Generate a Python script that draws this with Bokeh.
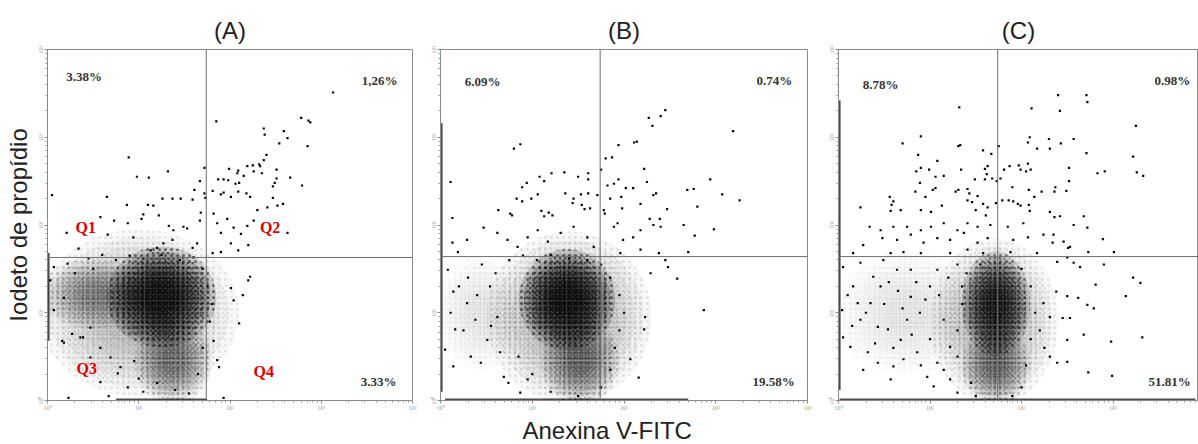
import math
from bokeh.plotting import figure
from bokeh.layouts import row
from bokeh.models import FixedTicker, Span, Range1d, Title
from bokeh.core.properties import value
from bokeh.embed import file_html
from bokeh.resources import INLINE

# ---------------- data (log10 decades of fluorescence) ----------------
panel_titles = ["(A)", "(B)", "(C)"]
x_label = "Anexina V-FITC"
y_label = "Iodeto de propídio"
decade_ticks = [0, 1, 2, 3, 4]
decade_labels = ["10⁰", "10¹", "10²", "10³", "10⁴"]
gate_x = [1.74, 1.74, 1.74]
gate_y = [1.63, 1.64, 1.64]
pct_q1 = ["3.38%", "6.09%", "8.78%"]
pct_q2 = ["1,26%", "0.74%", "0.98%"]
pct_q4 = ["3.33%", "19.58%", "51.81%"]
quad_names = ["Q1", "Q2", "Q3", "Q4"]

a_pts = [(3.13,3.51),(2.78,3.22),(2.86,3.19),(2.88,3.17),(1.85,3.18),(2.37,3.10),(2.38,3.03),(2.59,3.07),(2.63,2.99),(2.54,2.93),(2.85,2.90),(2.40,2.80),(2.37,2.74),(0.89,2.77),(0.98,2.55),(1.11,2.54),(1.32,2.61),(1.72,2.65),(1.99,2.64),(2.09,2.62),(2.08,2.59),(2.15,2.56),(2.19,2.67),(2.25,2.68),(2.26,2.61),(2.32,2.69),(2.33,2.67),(2.35,2.59),(2.51,2.63),(2.51,2.53),(2.49,2.48),(2.47,2.44),(2.66,2.54),(2.79,2.45),(1.87,2.52),(1.93,2.52),(1.98,2.51),(2.06,2.47),(2.10,2.48),(1.61,2.40),(1.67,2.50),(1.72,2.36),(1.73,2.31),(1.81,2.39),(1.90,2.35),(1.93,2.37),(2.01,2.32),(2.09,2.38),(2.18,2.36),(2.22,2.32),(0.65,2.32),(0.05,2.34),(1.26,2.30),(1.37,2.30),(1.46,2.30),(1.59,2.29),(2.47,2.31),
         (0.87,2.23),(1.10,2.23),(1.16,2.22),(0.58,2.09),(0.73,2.05),(1.05,2.12),(1.03,2.07),(1.22,2.11),(0.88,2.02),(0.21,1.91),(0.66,1.89),(0.34,1.73),(0.94,1.86),(1.33,1.99),(1.38,1.94),(1.49,1.98),(1.53,1.96),(1.27,1.79),(1.37,1.83),(1.20,1.74),(1.13,1.71),(1.59,1.74),(1.64,1.79),(1.68,2.14),(1.67,2.05),(1.82,2.13),(1.86,2.02),(1.90,1.91),(1.97,2.07),(2.04,1.97),(2.01,1.79),(2.12,1.90),(2.19,1.99),(2.26,2.05),(2.30,2.17),(2.41,2.20),(2.52,2.22),(2.58,2.24),(2.63,1.91),(2.20,1.77),(2.09,1.71),(1.90,1.69),(1.81,1.68),
         (2.20,1.37),(2.22,1.41),(2.14,1.20),(2.10,0.88),(1.93,0.03),(1.86,0.46),(1.88,0.38),(2.01,1.28),(2.04,1.14),(1.82,0.68),
         (0.58,0.21),(0.67,0.05),(0.47,0.49),(0.36,0.72),(0.18,0.66),(0.23,0.03),(0.77,0.31),(0.88,0.15),(0.80,0.38),
         (0.03,1.37),(0.07,1.03),(0.18,1.17),(0.16,0.68),(0.27,0.76),(0.39,0.72),(0.07,1.52),(0.22,1.56),(0.58,0.60),(0.69,0.49),(0.47,0.83),
         (0.45,1.62),(0.60,1.66),(0.75,1.60),(0.90,1.65),(1.05,1.62),(1.25,1.66),(1.45,1.60),(1.60,1.63),(0.50,1.50),(0.30,1.45),(1.70,1.50),(1.75,1.30),(1.80,1.10),(1.78,0.90),(1.70,0.60),(1.65,0.30),(1.05,0.10),(1.20,0.20),(1.40,0.12),(1.55,0.08),(0.95,0.45),(1.00,0.25)]
a_x = [p[0] for p in a_pts]
a_y = [p[1] for p in a_pts]

b_pts = [(2.45,3.31),(2.40,3.24),(2.27,3.22),(2.31,3.13),(3.19,3.07),(2.11,2.94),(2.14,2.95),(1.94,2.91),(0.80,2.87),(0.87,2.92),(1.80,2.76),(1.87,2.77),(2.22,2.64),(2.25,2.49),(0.11,2.49),(1.21,2.59),(1.35,2.60),(1.50,2.55),(1.61,2.59),(1.61,2.52),(1.75,2.63),(1.08,2.55),(1.13,2.50),(0.94,2.48),(0.89,2.43),(2.94,2.52),(1.94,2.52),(1.82,2.45),(1.89,2.47),(2.02,2.42),(2.10,2.42),(2.69,2.40),(2.76,2.41),(3.07,2.35),(3.26,2.28),(2.32,2.34),(2.35,2.36),(2.18,2.24),(2.80,2.21),(2.47,2.18),(1.97,2.32),(1.85,2.30),(1.98,2.19),(1.36,2.36),(1.53,2.35),(1.61,2.36),(1.71,2.34),(1.06,2.35),(0.99,2.30),(0.83,2.30),(0.89,2.27),(1.44,2.25),(1.45,2.30),(1.54,2.23),(1.57,2.18),(1.63,2.19),(0.63,2.17),(0.76,2.13),(0.78,2.11),(1.10,2.16),(1.18,2.14),(1.13,2.10),(1.22,2.11),(1.78,2.17),(1.79,2.13),(0.13,2.08),(2.28,2.07),(2.39,2.07),
         (2.65,2.00),(2.98,1.95),(2.77,1.88),(2.70,1.69),(2.32,2.00),(2.40,1.98),(2.18,1.94),(2.10,1.86),(1.99,1.83),(1.89,1.98),(1.93,2.02),(2.18,1.72),(2.38,1.68),(1.96,1.68),
         (0.13,1.80),(0.19,1.69),(0.29,1.83),(0.47,1.97),(0.62,1.91),(0.73,1.83),(0.84,1.75),(0.95,1.86),(1.06,1.94),(1.17,1.81),(1.31,1.91),(1.45,1.98),(1.60,1.86),(1.67,1.75),
         (2.48,1.52),(2.58,1.39),(2.87,1.03),(2.45,1.60),(2.29,1.45),(2.16,0.26),(2.07,0.47),(2.23,0.95),(2.22,0.81),
         (0.08,1.49),(0.14,1.24),(0.11,1.00),(0.16,0.81),(0.05,0.58),(0.33,0.50),(0.44,0.43),(0.14,0.39),(0.29,1.11),(0.38,0.92),(0.51,0.69),(0.54,1.30),(0.62,0.95),(0.65,0.55),(0.74,0.20),(0.69,0.27),(0.87,0.09),(0.95,0.24),
         (0.30,1.40),(0.45,1.55),(0.60,1.45),(0.75,1.60),(0.90,1.65),(1.05,1.60),(1.20,1.66),(1.40,1.62),(1.60,1.60),(1.75,1.55),(1.85,1.40),(1.95,1.20),(2.00,1.00),(1.95,0.80),(1.90,0.60),(1.85,0.35),(1.75,0.15),(1.50,0.05),(1.20,0.10),(1.00,0.30),(0.85,0.50),(0.20,1.30),(0.40,1.20),(0.25,0.80),(0.55,0.85)]
b_x = [p[0] for p in b_pts]
b_y = [p[1] for p in b_pts]

c_pts = [(2.40,3.48),(2.71,3.48),(2.72,3.40),(2.42,3.30),(2.11,3.33),(1.32,3.34),(3.25,3.13),(0.90,3.01),(0.70,2.93),(1.31,2.90),(1.33,2.91),(1.75,2.90),(2.09,3.00),(2.07,2.94),(2.17,2.87),(2.30,2.98),(2.31,2.87),(2.43,2.93),(2.57,2.98),(2.71,2.82),(3.22,2.78),(3.26,2.60),(3.33,2.56),(2.83,2.59),(2.91,2.61),(1.58,2.85),(1.67,2.81),(0.87,2.80),(1.08,2.73),(0.90,2.65),(0.85,2.61),(0.99,2.63),(1.34,2.63),(1.60,2.64),(1.63,2.67),(1.62,2.58),(1.87,2.67),(1.97,2.68),(2.07,2.70),(1.99,2.63),(2.10,2.63),(2.05,2.61),(1.81,2.63),(1.77,2.53),(2.52,2.65),(2.52,2.50),(2.49,2.39),(1.06,2.55),(1.15,2.56),(0.89,2.48),(1.49,2.52),(1.60,2.52),(1.68,2.53),(1.73,2.50),(1.90,2.43),(2.37,2.43),(2.36,2.38),(2.22,2.38),(2.08,2.40),(2.14,2.32),(0.84,2.38),(0.95,2.32),(1.06,2.42),(1.03,2.40),(1.28,2.38),(1.31,2.40),(1.41,2.41),(1.43,2.36),(0.56,2.32),(0.60,2.27),(0.58,2.23),(0.24,2.20),(0.57,2.16),(0.68,2.17),(1.41,2.28),(1.46,2.26),(1.52,2.33),(1.58,2.24),(1.63,2.20),(1.72,2.25),(1.79,2.28),(1.86,2.28),(1.91,2.27),(1.96,2.24),(1.99,2.22),(2.08,2.23),(2.09,2.16),(1.13,2.22),(0.90,2.17),(1.01,2.15),(1.50,2.17),(1.61,2.11),(2.31,2.15),(2.36,2.09),(2.42,2.10),(2.68,2.10),
         (0.34,1.98),(0.46,1.94),(0.60,1.98),(0.75,1.98),(0.90,1.94),(1.01,1.98),(1.15,2.02),(1.30,1.94),(1.41,2.02),(1.52,1.98),(1.66,2.00),(1.85,1.98),(2.02,2.02),(0.48,1.85),(0.64,1.83),(0.79,1.89),(0.93,1.80),(1.08,1.85),(1.22,1.83),(1.37,1.91),(1.52,1.80),(1.63,1.85),(1.91,1.83),(2.07,1.86),(2.24,1.89),(2.35,1.89),(2.46,1.81),(2.57,2.00),(2.72,1.97),(2.89,1.84),(3.01,1.69),(2.73,1.69),(2.51,1.74),(2.53,1.75),(2.34,1.80),(0.16,1.68),(0.27,1.77),(0.57,1.68),(0.71,1.69),(0.90,1.68),(1.22,1.68),(1.41,1.72),(1.58,1.68),(1.88,1.69),(2.17,1.68),
         (2.90,1.55),(2.81,1.32),(3.14,1.19),(3.22,1.40),(3.30,1.34),(3.32,0.72),(2.98,0.67),(2.73,0.32),(2.99,0.28),(2.50,0.69),(2.68,0.75),(2.72,1.09),(2.79,1.05),(2.62,1.17),(2.50,1.19),(2.38,1.24),(2.45,0.94),(2.53,0.94),(2.31,0.95),(2.24,1.11),(2.39,0.43),(2.50,0.44),(2.31,0.50),(2.57,1.57),(2.64,1.52),(2.50,1.63),(2.39,1.58),
         (0.05,1.52),(0.16,1.30),(0.04,1.03),(0.13,0.61),(0.05,0.72),(0.27,0.35),(0.32,0.55),(0.43,0.43),(0.24,0.92),(0.35,1.11),(0.46,1.30),(0.54,0.81),(0.60,0.39),(0.57,0.24),(0.68,0.69),(0.75,0.92),(0.79,1.18),(0.86,0.55),(0.97,0.27),(1.04,0.16),(1.08,0.43),(0.89,1.00),(1.00,1.30),(1.15,0.92),(1.22,0.61),(0.64,1.49),(0.49,1.60),(0.24,1.57),(0.79,1.49),(1.08,1.49),(0.43,0.84),(0.21,1.11),(1.22,0.24),(1.30,0.09),(0.38,1.41),(0.71,0.47),
         (0.10,1.20),(0.30,1.00),(0.50,1.10),(0.65,1.25),(0.85,1.35),(0.95,1.15),(1.10,1.20),(1.20,1.40),(0.70,1.05),(0.40,0.65),(0.60,0.60),(0.80,0.75),(1.00,0.70),(0.15,0.85),(0.90,0.40),(1.15,0.35),(1.30,0.50),(1.35,1.30),(1.30,1.55),(0.55,1.35),
         (1.30,0.80),(1.35,1.10),(1.40,1.45),(1.55,1.55),(2.00,1.50),(2.10,1.30),(2.15,1.00),(2.10,0.70),(2.05,0.40),(2.00,0.15),(1.90,0.05),(1.45,0.20),(1.50,0.05),(2.20,0.80),(2.25,0.60)]
c_x = [p[0] for p in c_pts]
c_y = [p[1] for p in c_pts]

# dense populations: centre, full extent (decades) and peak darkness
a_blob_x = [1.00, 0.50, 1.38, 1.25]
a_blob_y = [1.00, 1.22, 0.45, 1.18]
a_blob_w = [2.20, 1.15, 0.85, 1.20]
a_blob_h = [1.90, 0.80, 1.00, 1.15]
a_blob_dark = [0.30, 0.40, 0.50, 0.90]

b_blob_x = [0.45, 1.40, 1.52, 1.38]
b_blob_y = [1.00, 0.95, 0.45, 1.15]
b_blob_w = [1.00, 1.80, 0.85, 1.05]
b_blob_h = [1.30, 1.95, 1.00, 1.15]
b_blob_dark = [0.12, 0.35, 0.50, 0.90]

c_blob_x = [0.75, 1.70, 1.72, 1.72]
c_blob_y = [1.00, 0.90, 0.40, 1.10]
c_blob_w = [1.60, 1.40, 0.75, 0.75]
c_blob_h = [1.40, 1.90, 0.90, 1.20]
c_blob_dark = [0.12, 0.32, 0.50, 0.85]

# events piled on the axes (off-scale): segments along the edges (x0, y0, x1, y1)
a_pile = [(0.75, 0.0, 1.75, 0.0), (0.0, 0.68, 0.0, 1.68)]
b_pile = [(0.0, 0.10, 0.0, 3.16), (0.05, 0.0, 2.70, 0.0)]
c_pile = [(0.0, 0.12, 0.0, 3.42), (0.0, 0.0, 3.90, 0.0)]

# ---------------- styling ----------------
RINGS = [1.0, 0.9, 0.8, 0.7, 0.6, 0.5, 0.4, 0.3]
HATCH = [6, 5, 4.5, 4, 3.5, 3, 3, 3]
specs = [
    dict(w=422, left=47, right=10, xmax=4.0),
    dict(w=395, left=18, right=10, xmax=4.0),
    dict(w=381, left=21, right=0, xmax=360 / 91.5),
]
pts_x = [a_x, b_x, c_x]
pts_y = [a_y, b_y, c_y]
blobs = [(a_blob_x, a_blob_y, a_blob_w, a_blob_h, a_blob_dark),
         (b_blob_x, b_blob_y, b_blob_w, b_blob_h, b_blob_dark),
         (c_blob_x, c_blob_y, c_blob_w, c_blob_h, c_blob_dark)]
piles = [a_pile, b_pile, c_pile]
pct_pos_x = [[0.40, 3.64, 3.63], [0.46, 3.64, 3.63], [0.46, 3.65, 3.62]]
pct_pos_y = [[3.69, 3.65, 0.22], [3.64, 3.65, 0.22], [3.60, 3.65, 0.22]]
minor = [d + math.log10(k) for d in range(4) for k in range(2, 10)]

figs = []
for i, s in enumerate(specs):
    p = figure(width=s["w"], height=444, output_backend="svg", toolbar_location=None,
               x_range=Range1d(0, s["xmax"]), y_range=Range1d(0, 4),
               min_border_left=s["left"], min_border_right=s["right"],
               min_border_top=49, min_border_bottom=43)
    p.background_fill_color = "white"
    p.border_fill_color = "white"
    p.outline_line_color = "#8a8a8a"
    p.xgrid.visible = False
    p.ygrid.visible = False

    p.title.text = panel_titles[i]
    p.title.align = "center"
    p.title.text_font = "Liberation Sans"
    p.title.text_font_size = "24px"
    p.title.text_font_style = "normal"
    p.title.text_color = "#222222"
    p.title.standoff = 12

    for ax in (p.xaxis[0], p.yaxis[0]):
        ax.ticker = FixedTicker(ticks=decade_ticks, minor_ticks=minor)
        ax.major_label_overrides = {t: l for t, l in zip(decade_ticks, decade_labels)}
        ax.major_label_text_font_size = "6px"
        ax.major_label_text_color = "#9a9a9a"
        ax.major_label_text_font = "Liberation Serif"
        ax.major_label_standoff = 1
        ax.axis_line_color = "#8a8a8a"
        ax.major_tick_line_color = "#8a8a8a"
        ax.minor_tick_line_color = "#9a9a9a"
        ax.major_tick_out = 3
        ax.major_tick_in = 0
        ax.minor_tick_out = 2
        ax.minor_tick_in = 0
    p.yaxis[0].major_label_orientation = "vertical"

    if i == 0:
        p.yaxis[0].axis_label = y_label
        p.yaxis[0].axis_label_text_font = "Liberation Sans"
        p.yaxis[0].axis_label_text_font_size = "24px"
        p.yaxis[0].axis_label_text_font_style = "normal"
        p.yaxis[0].axis_label_text_color = "#222222"
        p.yaxis[0].axis_label_standoff = 3
    if i == 1:
        p.add_layout(Title(text=x_label, align="left", offset=82, standoff=2,
                           text_font="Liberation Sans", text_font_size="24px",
                           text_font_style="normal", text_color="#222222"), "below")

    # dense population clouds: soft concentric layers with a dotted texture
    bx, by, bw, bh, bd = blobs[i]
    n = len(RINGS)
    for k in range(len(bx)):
        a = 1 - (1 - bd[k]) ** (1.0 / n)
        for r, hs in zip(RINGS, HATCH):
            p.ellipse(x=[bx[k]], y=[by[k]], width=[bw[k] * r], height=[bh[k] * r],
                      fill_color="black", fill_alpha=a * 0.6, line_color=None,
                      hatch_pattern="dot", hatch_scale=hs, hatch_weight=1.1,
                      hatch_color="black", hatch_alpha=min(1.0, a * 1.8))

    pl = piles[i]
    p.segment(x0=[max(q[0], 0.012) for q in pl], y0=[max(q[1], 0.012) for q in pl],
              x1=[max(q[2], 0.012) for q in pl], y1=[max(q[3], 0.012) for q in pl],
              line_color="black", line_width=2, line_alpha=0.7)

    p.scatter(x=pts_x[i], y=pts_y[i], marker="square", size=2.2,
              fill_color="black", line_color=None)

    p.add_layout(Span(location=gate_x[i], dimension="height", line_color="#6e6e6e", line_width=1))
    p.add_layout(Span(location=gate_y[i], dimension="width", line_color="#6e6e6e", line_width=1))

    p.text(x=pct_pos_x[i], y=pct_pos_y[i], text=[pct_q1[i], pct_q2[i], pct_q4[i]],
           text_font=value("Liberation Serif"), text_font_style="bold", text_font_size="13px",
           text_color="#333333", text_align="center", text_baseline="middle")
    if i == 0:
        p.text(x=[0.42, 2.44, 0.43, 2.37], y=[1.97, 1.97, 0.36, 0.33], text=quad_names,
               text_font=value("Liberation Serif"), text_font_style="bold", text_font_size="16px",
               text_color="#e00000", text_align="center", text_baseline="middle")
    figs.append(p)

layout = row(*figs, spacing=0)
open("out.html", "w").write(file_html(layout, INLINE))
